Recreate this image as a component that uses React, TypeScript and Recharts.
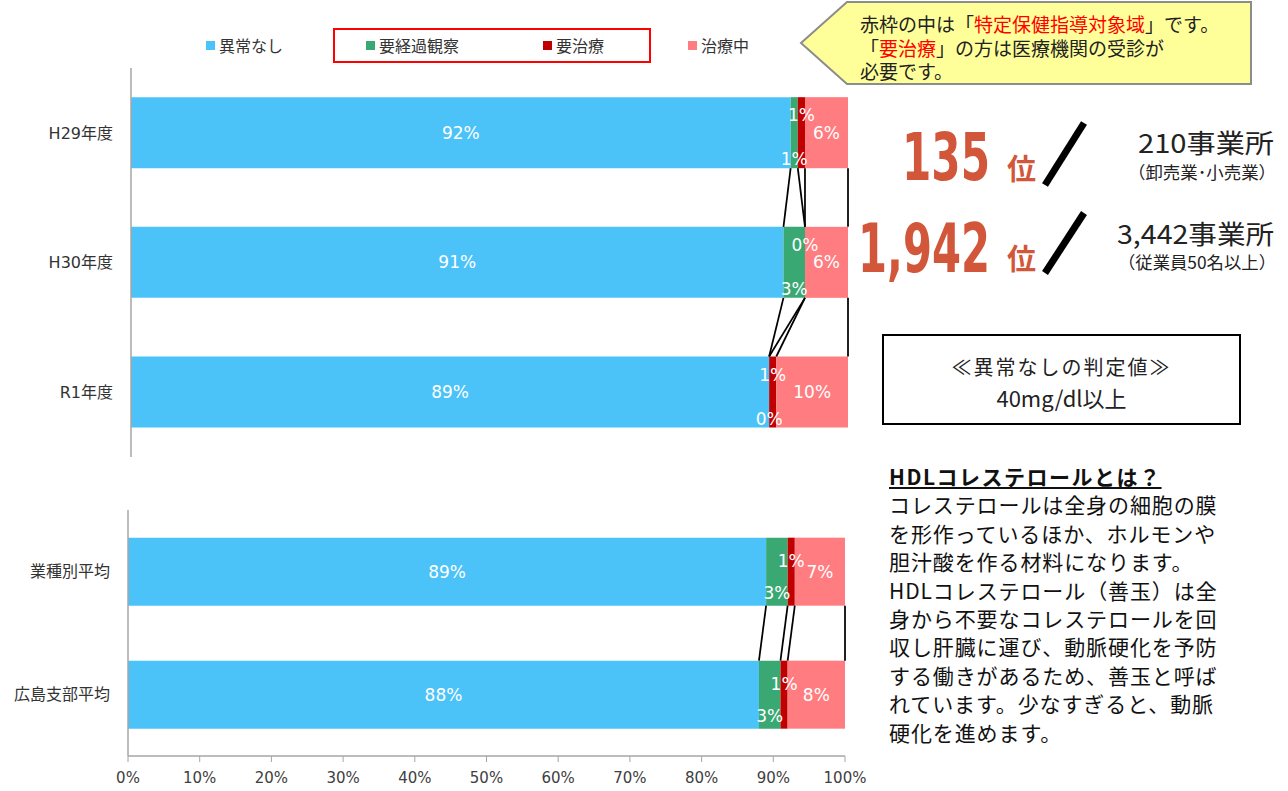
import React from 'react'
import { BarChart, Bar, XAxis, YAxis, Legend, LabelList } from 'recharts'

// series
const seriesKeys = ['normal', 'watch', 'treat', 'ongoing']
const seriesNames = ['異常なし', '要経過観察', '要治療', '治療中']
const seriesColors = ['#4BC3F9', '#3AA872', '#C00000', '#FF7C80']

// top block: by year
const yearCats = ['H29年度', 'H30年度', 'R1年度']
const yearNormal = [92, 91, 89]
const yearWatch = [1, 3, 0]
const yearTreat = [1, 0, 1]
const yearOngoing = [6, 6, 10]

// bottom block: averages
const avgCats = ['業種別平均', '広島支部平均']
const avgNormal = [89, 88]
const avgWatch = [3, 3]
const avgTreat = [1, 1]
const avgOngoing = [7, 8]

const xTicks = [0, 10, 20, 30, 40, 50, 60, 70, 80, 90, 100]

const bodyLines = [
  'コレステロールは全身の細胞の膜',
  'を形作っているほか、ホルモンや',
  '胆汁酸を作る材料になります。',
  'HDLコレステロール（善玉）は全',
  '身から不要なコレステロールを回',
  '収し肝臓に運び、動脈硬化を予防',
  'する働きがあるため、善玉と呼ば',
  'れています。少なすぎると、動脈',
  '硬化を進めます。',
]

type Row = { name: string; normal: number; watch: number; treat: number; ongoing: number }

const buildRows = (cats: string[], a: number[], b: number[], c: number[], d: number[]): Row[] =>
  cats.map((name, i) => ({ name, normal: a[i], watch: b[i], treat: c[i], ongoing: d[i] }))

const yearRows = buildRows(yearCats, yearNormal, yearWatch, yearTreat, yearOngoing)
const avgRows = buildRows(avgCats, avgNormal, avgWatch, avgTreat, avgOngoing)

const cumulative = (r: Row) => [r.normal, r.normal + r.watch, r.normal + r.watch + r.treat, r.normal + r.watch + r.treat + r.ongoing]

// last segment draws itself plus the series lines back to the previous row
function makeLastShape(rows: Row[]) {
  const geo: Record<number, { origin: number; px: number; bottom: number }> = {}
  return (props: any) => {
    const { x, y, width, height, index, fill } = props
    const row = rows[index]
    const px = width / row.ongoing
    const origin = x - (row.normal + row.watch + row.treat) * px
    geo[index] = { origin, px, bottom: y + height }
    const prev = index > 0 ? geo[index - 1] : null
    const prevCum = index > 0 ? cumulative(rows[index - 1]) : []
    const cum = cumulative(row)
    return (
      <g>
        <rect x={x} y={y} width={width} height={height} fill={fill} />
        {prev &&
          prevCum.map((c, k) => (
            <line
              key={k}
              x1={prev.origin + c * prev.px}
              y1={prev.bottom}
              x2={origin + cum[k] * px}
              y2={y}
              stroke="#000"
              strokeWidth={1.75}
            />
          ))}
      </g>
    )
  }
}

const labelText = (x: number, y: number, v: number, key?: string) => (
  <text
    key={key}
    x={x}
    y={y}
    fill="#fff"
    fontSize={17}
    fontFamily="'DejaVu Sans', sans-serif"
    textAnchor="middle"
    dominantBaseline="central"
  >
    {v}%
  </text>
)

// first segment labels itself and the two thin segments after it (they can be 0 wide)
const makeFirstLabel = (rows: Row[], topOff: number, bottomOff: number) => (props: any) => {
  const { x, y, width, height, index } = props
  const row = rows[index]
  const px = width / row.normal
  const end = x + width
  return (
    <g>
      {labelText(x + width / 2, y + height / 2, row.normal, 'n')}
      {labelText(end + (row.watch * px) / 2, y + height - bottomOff, row.watch, 'w')}
      {labelText(end + (row.watch + row.treat / 2) * px, y + topOff, row.treat, 't')}
    </g>
  )
}

const lastLabel = (props: any) => {
  const { x, y, width, height, value } = props
  return labelText(x + width / 2, y + height / 2, value)
}

function LegendBlock() {
  const lefts = [206, 366, 543, 688]
  return (
    <div style={{ position: 'relative', width: 880, height: 68 }}>
      <div
        style={{
          position: 'absolute',
          left: 333,
          top: 28,
          width: 318,
          height: 35,
          border: '2px solid #FF0000',
          boxSizing: 'border-box',
        }}
      />
      {seriesNames.map((n, i) => (
        <div
          key={n}
          style={{
            position: 'absolute',
            left: lefts[i],
            top: 35,
            height: 20,
            display: 'flex',
            alignItems: 'center',
            fontSize: 16,
            color: '#333',
            whiteSpace: 'nowrap',
          }}
        >
          <span style={{ width: 9, height: 9, background: seriesColors[i], marginRight: 4, display: 'inline-block' }} />
          {n}
        </div>
      ))}
    </div>
  )
}

const yTick = { fontSize: 16, fill: '#333', fontFamily: "'DejaVu Sans', 'Noto Sans CJK JP', sans-serif" }

function renderBars(rows: Row[], topOff: number, bottomOff: number) {
  const lastShape = makeLastShape(rows)
  return seriesKeys.map((k, i) => (
    <Bar
      key={k}
      dataKey={k}
      name={seriesNames[i]}
      stackId="a"
      fill={seriesColors[i]}
      isAnimationActive={false}
      shape={i === 3 ? lastShape : undefined}
    >
      {i === 0 && <LabelList dataKey={k} content={makeFirstLabel(rows, topOff, bottomOff)} />}
      {i === 3 && <LabelList dataKey={k} content={lastLabel} />}
    </Bar>
  ))
}

export default function App() {
  return (
    <div
      style={{
        position: 'absolute',
        left: 0,
        top: 0,
        width: 1288,
        height: 791,
        overflow: 'hidden',
        background: '#fff',
        fontFamily: "'Noto Sans CJK JP', sans-serif",
        color: '#222',
      }}
    >
      <div style={{ position: 'absolute', left: 0, top: 0 }}>
        <BarChart
          width={880}
          height={470}
          data={yearRows}
          layout="vertical"
          margin={{ top: 0, right: 32, bottom: 13, left: 0 }}
          barCategoryGap="22.5%"
        >
          <XAxis type="number" domain={[0, 100]} hide />
          <YAxis
            type="category"
            dataKey="name"
            width={131}
            tickLine={false}
            tickSize={0}
            tickMargin={18}
            axisLine={{ stroke: '#A6A6A6', strokeWidth: 1.5 }}
            tick={yTick}
          />
          <Legend
            verticalAlign="top"
            content={() => <LegendBlock />}
            wrapperStyle={{ top: 0, left: 0, width: 880, height: 68, margin: 0, padding: 0 }}
          />
          {renderBars(yearRows, 18, 9)}
        </BarChart>
      </div>

      <div style={{ position: 'absolute', left: 0, top: 490 }}>
        <BarChart
          width={880}
          height={300}
          data={avgRows}
          layout="vertical"
          margin={{ top: 20, right: 35, bottom: 4, left: 0 }}
          barCategoryGap="22.5%"
        >
          <XAxis
            type="number"
            domain={[0, 100]}
            ticks={xTicks}
            tickFormatter={(v) => `${v}%`}
            height={30}
            tickMargin={10}
            axisLine={{ stroke: '#A6A6A6', strokeWidth: 1.5 }}
            tickLine={{ stroke: '#A6A6A6' }}
            tick={{ fontSize: 15, fill: '#404040', fontFamily: "'DejaVu Sans', sans-serif" }}
            interval={0}
          />
          <YAxis
            type="category"
            dataKey="name"
            width={128}
            tickLine={false}
            tickSize={0}
            tickMargin={18}
            axisLine={{ stroke: '#A6A6A6', strokeWidth: 1.5 }}
            tick={yTick}
          />
          {renderBars(avgRows, 23, 13)}
        </BarChart>
      </div>

      {/* callout + ranks */}
      <svg width={1288} height={300} style={{ position: 'absolute', left: 0, top: 0 }}>
        <polygon points="847,2 1251,2 1251,84 847,84 801,43" fill="#FFFF99" stroke="#8C8C8C" strokeWidth={2} />
        <g fontFamily="'Liberation Sans Narrow', 'DejaVu Sans Condensed', sans-serif" fontWeight="bold" fill="#D2573A">
          <text x={902} y={180} fontSize={66} textLength={88} lengthAdjust="spacingAndGlyphs">135</text>
          <text x={858} y={272} fontSize={68} textLength={132} lengthAdjust="spacingAndGlyphs">1,942</text>
        </g>
        <g fontFamily="'Noto Sans CJK JP', sans-serif" fontWeight="bold" fill="#D2573A" fontSize={29}>
          <text x={1007} y={180}>位</text>
          <text x={1007} y={270}>位</text>
        </g>
        <line x1={1045} y1={185} x2={1084} y2={123} stroke="#000" strokeWidth={7} />
        <line x1={1045} y1={273} x2={1084} y2={213} stroke="#000" strokeWidth={7} />
        <g fontFamily="'Noto Sans CJK JP', sans-serif" fill="#222" textAnchor="end" dominantBaseline="central">
          <text x={1274} y={141} fontSize={26} textLength={136} lengthAdjust="spacingAndGlyphs">210事業所</text>
          <text x={1276} y={171} fontSize={17} textLength={148} lengthAdjust="spacingAndGlyphs">（卸売業･小売業）</text>
          <text x={1274} y={232} fontSize={26} textLength={157} lengthAdjust="spacingAndGlyphs">3,442事業所</text>
          <text x={1276} y={261} fontSize={17} textLength={158} lengthAdjust="spacingAndGlyphs">（従業員50名以上）</text>
        </g>
      </svg>
      <div style={{ position: 'absolute', left: 860, top: 12, fontSize: 19, lineHeight: '23.5px', whiteSpace: 'nowrap', color: '#222' }}>
        <div>
          赤枠の中は「<span style={{ color: '#FF0000' }}>特定保健指導対象域</span>」です。
        </div>
        <div>
          「<span style={{ color: '#FF0000' }}>要治療</span>」の方は医療機関の受診が
        </div>
        <div>必要です。</div>
      </div>

      <div
        style={{
          position: 'absolute',
          left: 882,
          top: 334,
          width: 359,
          height: 91,
          border: '2px solid #000',
          boxSizing: 'border-box',
          display: 'flex',
          flexDirection: 'column',
          alignItems: 'center',
          paddingTop: 15,
          fontSize: 20,
          lineHeight: '31px',
          color: '#222',
        }}
      >
        <div style={{ letterSpacing: 2 }}>≪異常なしの判定値≫</div>
        <div style={{ fontSize: 22 }}>40mg/dl以上</div>
      </div>

      <div style={{ position: 'absolute', left: 889, top: 462, fontSize: 21, lineHeight: '28.4px', whiteSpace: 'nowrap', color: '#111' }}>
        <div style={{ fontWeight: 'bold', textDecoration: 'underline', letterSpacing: 1.5 }}>HDLコレステロールとは？</div>
        {bodyLines.map((l) => (
          <div key={l} style={{ letterSpacing: 0.9 }}>{l}</div>
        ))}
      </div>
    </div>
  )
}
